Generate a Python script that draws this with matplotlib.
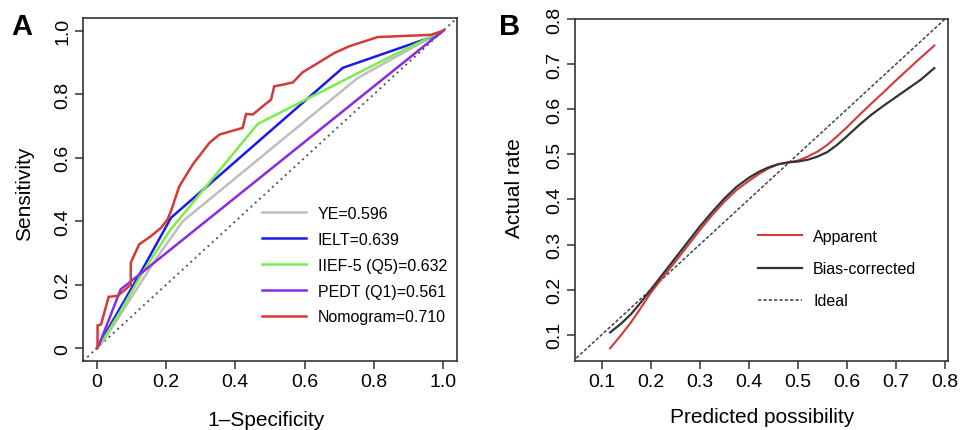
import matplotlib
matplotlib.use("Agg")
import matplotlib.pyplot as plt

plt.rcParams['font.family'] = ['Liberation Sans', 'DejaVu Sans']

# ---------------- Panel A data (ROC curves) ----------------
ye_fpr = [0, 0.02, 0.17, 0.248, 0.753, 1.0]
ye_tpr = [0, 0.025, 0.28, 0.40, 0.851, 1.0]

ielt_fpr = [0, 0.012, 0.137, 0.214, 0.71, 0.985, 1.0]
ielt_tpr = [0, 0.022, 0.259, 0.411, 0.883, 0.987, 1.0]

iief_fpr = [0, 0.02, 0.07, 0.13, 0.21, 0.464, 0.594, 0.869, 1.0]
iief_tpr = [0, 0.03, 0.12, 0.235, 0.37, 0.706, 0.778, 0.93, 1.0]

pedt_fpr = [0, 0.007, 0.069, 0.094, 1.0]
pedt_tpr = [0, 0.013, 0.186, 0.207, 1.0]

nomo_fpr = [0, 0.002, 0.002, 0.012, 0.034, 0.06, 0.098, 0.098, 0.122, 0.156, 0.185,
            0.204, 0.214, 0.238, 0.277, 0.325, 0.354, 0.421, 0.431, 0.45, 0.479,
            0.503, 0.512, 0.537, 0.566, 0.594, 0.638, 0.686, 0.729, 0.763, 0.811,
            0.965, 1.0]
nomo_tpr = [0, 0.002, 0.072, 0.075, 0.162, 0.165, 0.200, 0.270, 0.327, 0.353, 0.379,
            0.406, 0.432, 0.510, 0.579, 0.647, 0.673, 0.694, 0.738, 0.736, 0.762,
            0.783, 0.825, 0.830, 0.837, 0.869, 0.898, 0.930, 0.951, 0.963, 0.980,
            0.987, 1.0]

roc_labels = ["YE=0.596", "IELT=0.639", "IIEF-5 (Q5)=0.632", "PEDT (Q1)=0.561", "Nomogram=0.710"]
roc_colors = ["#BEBEBE", "#1A1AF0", "#7CEB4C", "#8A2BE2", "#D33A3A"]
a_ticks = [0, 0.2, 0.4, 0.6, 0.8, 1.0]
a_ticklabels = ["0", "0.2", "0.4", "0.6", "0.8", "1.0"]

# ---------------- Panel B data (calibration) ----------------
pred_x = [0.117, 0.14, 0.16, 0.18, 0.20, 0.225, 0.25, 0.275, 0.30, 0.325, 0.35, 0.375,
          0.40, 0.42, 0.44, 0.46, 0.48, 0.50, 0.52, 0.54, 0.56, 0.58, 0.60, 0.625,
          0.65, 0.675, 0.70, 0.725, 0.75, 0.778]
apparent = [0.070, 0.100, 0.128, 0.160, 0.193, 0.228, 0.262, 0.297, 0.332, 0.365, 0.395,
            0.421, 0.441, 0.456, 0.469, 0.478, 0.482, 0.486, 0.495, 0.506, 0.521, 0.540,
            0.560, 0.587, 0.613, 0.638, 0.664, 0.689, 0.714, 0.741]
bias_corr = [0.105, 0.125, 0.146, 0.172, 0.200, 0.235, 0.270, 0.305, 0.340, 0.372, 0.402,
             0.428, 0.448, 0.461, 0.471, 0.478, 0.482, 0.484, 0.488, 0.495, 0.505, 0.521,
             0.540, 0.565, 0.588, 0.608, 0.627, 0.646, 0.665, 0.691]
b_ticks = [0.1, 0.2, 0.3, 0.4, 0.5, 0.6, 0.7, 0.8]
b_ticklabels = ["0.1", "0.2", "0.3", "0.4", "0.5", "0.6", "0.7", "0.8"]

fig = plt.figure(figsize=(9.6, 4.31), dpi=100)
W, H = 960, 431
axA = fig.add_axes([83 / W, 1 - 362 / H, (457 - 83) / W, (362 - 19) / H])
axB = fig.add_axes([575 / W, 1 - 362 / H, (948 - 575) / W, (362 - 20) / H])

frame_col = "#333333"
for ax in (axA, axB):
    for s in ax.spines.values():
        s.set_linewidth(1.2)
        s.set_color(frame_col)
    ax.tick_params(axis='both', direction='out', length=5.5, width=1.1,
                   color=frame_col, labelsize=14, pad=3)
    ax.tick_params(axis='y', labelrotation=90)

# ---- Panel A ----
axA.plot([-0.04, 1.04], [-0.04, 1.04], linestyle=(0, (1, 2)), color="#555555", lw=1.4)
series = [(ye_fpr, ye_tpr), (ielt_fpr, ielt_tpr), (iief_fpr, iief_tpr),
          (pedt_fpr, pedt_tpr), (nomo_fpr, nomo_tpr)]
for (xs, ys), lab, c in zip(series, roc_labels, roc_colors):
    axA.plot(xs, ys, color=c, lw=1.8, label=lab, solid_joinstyle='miter')
axA.set_xlim(-0.04, 1.04)
axA.set_ylim(-0.04, 1.04)
axA.set_xticks(a_ticks)
axA.set_xticklabels(a_ticklabels)
axA.set_yticks(a_ticks)
axA.set_yticklabels(a_ticklabels, va='center')
axA.set_xlabel("1\u2013Specificity", fontsize=15)
axA.set_ylabel("Sensitivity", fontsize=15)
axA.xaxis.set_label_coords(0.49, -0.172)
axA.xaxis.label.set_verticalalignment('center')
axA.yaxis.set_label_coords(-0.157, 0.49)
axA.yaxis.label.set_verticalalignment('center')
legA = axA.legend(loc='upper left', bbox_to_anchor=(0.478, 0.452), frameon=False,
                  fontsize=11.5, handlelength=2.8, handletextpad=0.7,
                  labelspacing=0.68, borderpad=0, borderaxespad=0)

# ---- Panel B ----
axB.plot([0.0, 0.85], [0.0, 0.85], linestyle=(0, (2.2, 1.3)), color="#444444", lw=1.1,
         label="Ideal")
axB.plot(pred_x, apparent, color="#D33A3A", lw=1.5, label="Apparent")
axB.plot(pred_x, bias_corr, color="#333333", lw=1.6, label="Bias-corrected")
axB.set_xlim(0.0455, 0.806)
axB.set_ylim(0.0417, 0.800)
axB.set_xticks(b_ticks)
axB.set_xticklabels(b_ticklabels)
axB.set_yticks(b_ticks)
axB.set_yticklabels(b_ticklabels, va='center')
axB.set_xlabel("Predicted possibility", fontsize=15)
axB.set_ylabel("Actual rate", fontsize=15)
axB.xaxis.set_label_coords(0.501, -0.161)
axB.xaxis.label.set_verticalalignment('center')
axB.yaxis.set_label_coords(-0.161, 0.509)
axB.yaxis.label.set_verticalalignment('center')
h, l = axB.get_legend_handles_labels()
order = [1, 2, 0]
legB = axB.legend([h[i] for i in order], [l[i] for i in order], loc='upper left',
                  bbox_to_anchor=(0.491, 0.386), frameon=False, fontsize=11.5,
                  handlelength=2.75, handletextpad=0.7, labelspacing=1.08,
                  borderpad=0, borderaxespad=0)

fig.text(22 / W, 1 - 27 / H, "A", fontsize=21, fontweight='bold', ha='center', va='center')
fig.text(510 / W, 1 - 27 / H, "B", fontsize=21, fontweight='bold', ha='center', va='center')

fig.savefig("out.png", dpi=100)
